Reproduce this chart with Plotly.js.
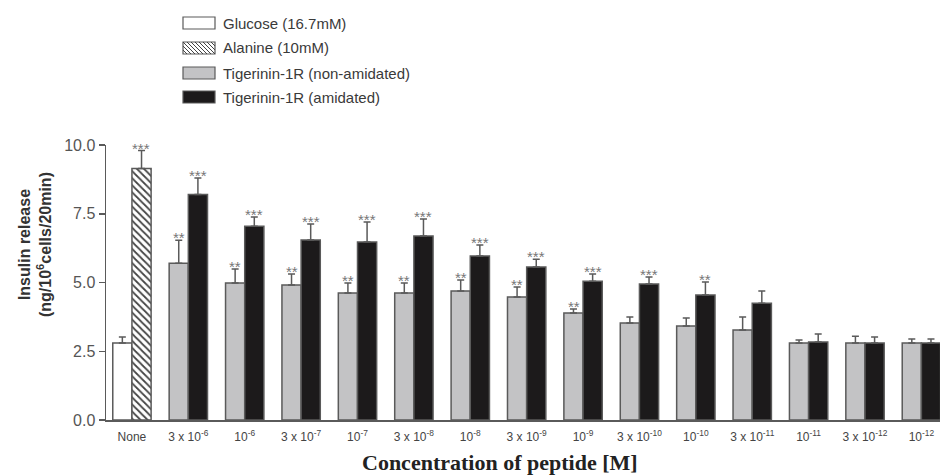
<!DOCTYPE html>
<html>
<head>
<meta charset="utf-8">
<script src="https://cdn.plot.ly/plotly-3.0.1.min.js"></script>
<style>html,body{margin:0;padding:0;background:#fff;}#chart{width:942px;height:475px;}</style>
</head>
<body>
<div id="chart"></div>
<script>
// ---- data ----
const categories = ['None','3 x 10<sup>-6</sup>','10<sup>-6</sup>','3 x 10<sup>-7</sup>','10<sup>-7</sup>','3 x 10<sup>-8</sup>','10<sup>-8</sup>','3 x 10<sup>-9</sup>','10<sup>-9</sup>','3 x 10<sup>-10</sup>','10<sup>-10</sup>','3 x 10<sup>-11</sup>','10<sup>-11</sup>','3 x 10<sup>-12</sup>','10<sup>-12</sup>'];
const peptideCats = categories.slice(1);
const glucose = [2.8];
const glucoseErr = [0.22];
const alanine = [9.15];
const alanineErr = [0.65];
const alanineSig = ['***'];
const nonAmidated = [5.7, 4.98, 4.91, 4.62, 4.62, 4.69, 4.47, 3.89, 3.53, 3.42, 3.27, 2.8, 2.8, 2.8];
const nonAmidatedErr = [0.84, 0.51, 0.40, 0.36, 0.36, 0.40, 0.37, 0.15, 0.22, 0.29, 0.48, 0.11, 0.25, 0.15];
const nonAmidatedSig = ['**','**','**','**','**','**','**','**','','','','','',''];
const amidated = [8.2, 7.05, 6.55, 6.47, 6.69, 5.96, 5.56, 5.05, 4.95, 4.55, 4.25, 2.84, 2.8, 2.8];
const amidatedErr = [0.6, 0.33, 0.58, 0.73, 0.62, 0.40, 0.29, 0.26, 0.25, 0.47, 0.44, 0.29, 0.22, 0.15];
const amidatedSig = ['***','***','***','***','***','***','***','***','***','**','','','',''];
const legendNames = ['Glucose (16.7mM)','Alanine (10mM)','Tigerinin-1R (non-amidated)','Tigerinin-1R (amidated)'];
const yTicks = [0, 2.5, 5, 7.5, 10];
const yTickText = ['0.0','2.5','5.0','7.5','10.0'];
const yTitle = '<b>Insulin release</b><br><b>(ng/10<sup>6</sup>cells/20min)</b>';
const xTitle = '<b>Concentration of peptide [M]</b>';

// ---- styles ----
const W = 0.34;
const edge = '#5a5a5a';
const errStyle = (arr) => ({type:'data', symmetric:false, array:arr, arrayminus:arr.map(()=>0), color:edge, thickness:1.5, width:3.5});

const traces = [
  {type:'bar', name:legendNames[0], x:[categories[0]], y:glucose, offset:-W, width:W,
   marker:{color:'#ffffff', line:{color:edge, width:1.5}}, error_y:errStyle(glucoseErr)},
  {type:'bar', name:legendNames[1], x:[categories[0]], y:alanine, offset:0, width:W,
   marker:{color:'#ffffff', line:{color:edge, width:1.5}, pattern:{shape:'\\', fgcolor:'#444', bgcolor:'#ffffff', size:5, solidity:0.35}}, error_y:errStyle(alanineErr)},
  {type:'bar', name:legendNames[2], x:peptideCats, y:nonAmidated, offset:-W, width:W,
   marker:{color:'#c3c3c5', line:{color:edge, width:1.5}}, error_y:errStyle(nonAmidatedErr)},
  {type:'bar', name:legendNames[3], x:peptideCats, y:amidated, offset:0, width:W,
   marker:{color:'#1c1a1b', line:{color:edge, width:1.5}}, error_y:errStyle(amidatedErr)}
];

// significance annotations
const annotations = [];
const sigFont = {family:'Liberation Sans, Arial, sans-serif', size:15, color:'#777777'};
const shiftPx = 9.5;
function addSig(cats, vals, errs, sig, shift){
  cats.forEach((c,i)=>{
    if(sig[i]) annotations.push({x:c, y:vals[i]+errs[i], xref:'x', yref:'y', text:sig[i], showarrow:false,
      yanchor:'bottom', xanchor:'center', xshift:shift, yshift:-8, font:sigFont});
  });
}
addSig([categories[0]], alanine, alanineErr, alanineSig, shiftPx);
addSig(peptideCats, nonAmidated, nonAmidatedErr, nonAmidatedSig, -shiftPx);
addSig(peptideCats, amidated, amidatedErr, amidatedSig, shiftPx);

// pixel helpers (layout positions only)
const L = 106, R = 2, T = 145, B = 55, H = 475, Wd = 942;
const px = (x)=> (x - L) / (Wd - L - R);
const py = (y)=> (H - B - y) / (H - T - B);

// manual legend (wide rectangle symbols)
const shapes = [];
const legRows = [23, 48, 73, 97];
const legFill = ['#ffffff','#ffffff','#c3c3c5','#1c1a1b'];
const bx0 = 183, bx1 = 215, bh = 6;
legRows.forEach((yc,i)=>{
  shapes.push({type:'rect', xref:'paper', yref:'paper', x0:px(bx0), x1:px(bx1), y0:py(yc+bh), y1:py(yc-bh),
    fillcolor:legFill[i], line:{color:edge, width:1.2}});
  annotations.push({xref:'paper', yref:'paper', x:px(221), y:py(yc), text:legendNames[i], showarrow:false,
    xanchor:'left', yanchor:'middle', font:{family:'Liberation Sans, Arial, sans-serif', size:15, color:'#3a3a3a'}});
});
// hatch lines for Alanine legend symbol
for(let k=-12;k<=34;k+=4){
  let x0=bx0+k, y0=legRows[1]-bh, x1=bx0+k+2*bh, y1=legRows[1]+bh;
  if(x0<bx0){ y0 += (bx0-x0); x0=bx0; }
  if(x1>bx1){ y1 -= (x1-bx1); x1=bx1; }
  if(x0>=x1) continue;
  shapes.push({type:'line', xref:'paper', yref:'paper', x0:px(x0), y0:py(y0), x1:px(x1), y1:py(y1), line:{color:'#444', width:1}});
}

// axis titles placed as annotations for exact position
annotations.push({xref:'paper', yref:'paper', x:px(35), y:py(245), text:yTitle, textangle:-90, showarrow:false,
  xanchor:'center', yanchor:'middle', align:'center', font:{family:'Liberation Sans, Arial, sans-serif', size:16, color:'#333'}});
annotations.push({xref:'paper', yref:'paper', x:px(500), y:py(462), text:xTitle, showarrow:false,
  xanchor:'center', yanchor:'middle', font:{family:'Liberation Serif, Times New Roman, serif', size:22, color:'#222'}});

const layout = {
  width:942, height:475,
  margin:{l:L, r:R, t:T, b:B},
  paper_bgcolor:'#ffffff', plot_bgcolor:'#ffffff',
  barmode:'overlay', showlegend:false,
  font:{family:'Liberation Sans, Arial, sans-serif', color:'#444'},
  xaxis:{type:'category', categoryorder:'array', categoryarray:categories, range:[-0.46, 14.33],
    showline:true, linecolor:edge, linewidth:1.5, ticks:'', showgrid:false, zeroline:false,
    tickfont:{size:12, color:'#444'}, ticklabelstandoff:5},
  yaxis:{range:[0,10], tickvals:yTicks, ticktext:yTickText, showline:true, linecolor:edge, linewidth:1.5,
    ticks:'outside', ticklen:6, tickcolor:edge, tickwidth:1.5, showgrid:false, zeroline:false,
    tickfont:{size:16, color:'#555'}},
  annotations:annotations, shapes:shapes
};
Plotly.newPlot('chart', traces, layout, {displayModeBar:false, staticPlot:true});
</script>
</body>
</html>
